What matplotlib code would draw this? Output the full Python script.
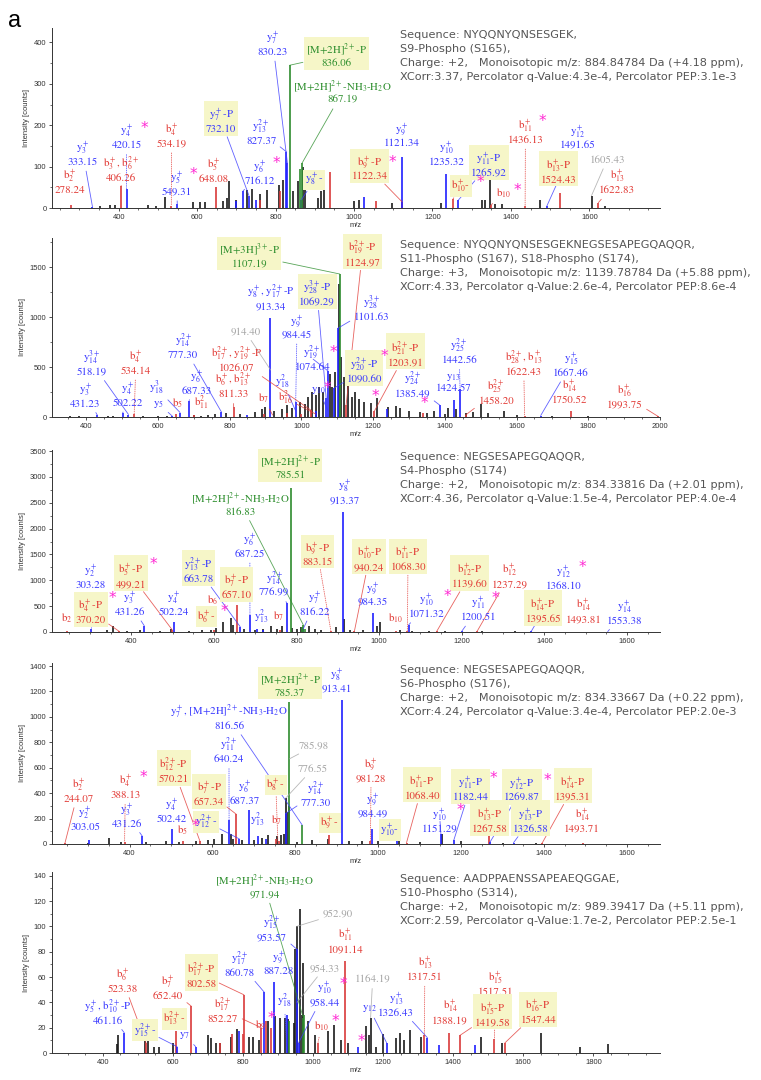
import matplotlib
matplotlib.use("Agg")
import matplotlib.pyplot as plt
from matplotlib.ticker import MultipleLocator, AutoMinorLocator

plt.rcParams['font.family'] = ['Liberation Sans', 'DejaVu Sans']
plt.rcParams['mathtext.fontset'] = 'stix'

# ---------------- data: peaks (m/z, intensity) ----------------
p1_black = [(352, 5), (377, 7), (390, 8), (475, 7), (496, 5), (517, 26), (590, 15), (607, 15), (619, 14),
            (667, 18), (675, 25), (682, 65), (700, 20), (727, 43), (741, 47), (761, 35), (778, 43), (808, 55),
            (818, 68), (845, 42), (858, 66), (869, 98), (876, 82), (907, 25), (916, 40), (924, 48), (1000, 16),
            (1013, 20), (1098, 12), (1221, 12), (1327, 20), (1335, 20), (1346, 68), (1359, 10), (1378, 10),
            (1474, 20), (1605.43, 30), (1640, 5)]
p1_blue = [(333.15, 3), (420.15, 45), (549.31, 10), (700, 18), (716.12, 40), (732.10, 30), (749, 20),
           (827.37, 136), (830.23, 108), (866, 20), (1026, 26), (1121.34, 124), (1235.32, 82), (1265.92, 19),
           (1491.65, 5)]
p1_red = [(278.24, 8), (406.26, 52), (534.19, 5), (648.08, 51), (760, 20), (810, 40), (939, 88), (1056, 16),
          (1122.34, 15), (1252, 21), (1350, 8), (1436.13, 5), (1524.43, 37), (1622.83, 13)]
p1_green = [(836.06, 345), (862, 95), (867.19, 108)]

p2_black = [(355, 10), (380, 8), (460, 12), (475, 10), (560, 10), (600, 12), (625, 15), (700, 20), (720, 15),
            (740, 25), (760, 30), (790, 40), (830, 30), (870, 50), (890, 80), (900, 100), (925, 60), (945, 80),
            (960, 120), (975, 90), (995, 150), (1010, 130), (1020, 200), (1030, 250), (1040, 220), (1050, 300),
            (1060, 250), (1080, 430), (1085, 300), (1095, 450), (1104, 1330), (1112, 600), (1118, 400),
            (1130, 350), (1140, 200), (1150, 250), (1160, 180), (1174, 150), (1193, 137), (1212, 187),
            (1241, 103), (1264, 110), (1275, 90), (1300, 60), (1330, 50), (1350, 40), (1370, 60), (1400, 30),
            (1410, 90), (1430, 80), (1460, 40), (1480, 50), (1501, 130), (1520, 40), (1564, 60), (1600, 20),
            (1700, 15), (1800, 10)]
p2_blue = [(431.23, 20), (502.22, 40), (518.19, 25), (640, 10), (662, 45), (687.33, 165), (777.30, 50),
           (850, 20), (913.34, 990), (984.45, 150), (1040, 60), (1069.29, 190), (1074.64, 460), (1090.60, 287),
           (1101.63, 887), (1240, 80), (1385.49, 120), (1424.57, 170), (1442.56, 280), (1667.46, 15)]
p2_red = [(534.14, 30), (650, 30), (700, 20), (811.33, 100), (895, 30), (960, 40), (1000, 30), (1026.07, 70),
          (1124.97, 120), (1203.91, 60), (1340, 40), (1458.20, 20), (1622.43, 15), (1750.52, 60), (1993.75, 8)]
p2_green = [(1107.19, 1430)]

p3_black = [(340, 30), (356, 110), (390, 20), (420, 40), (470, 25), (495, 60), (540, 20), (570, 30), (594, 40),
            (604, 70), (623, 200), (641, 280), (646, 135), (672, 60), (700, 40), (720, 50), (738, 110),
            (752, 60), (765, 110), (790, 80), (800, 60), (810, 90), (830, 110), (845, 50), (860, 40), (895, 100),
            (914, 250), (930, 40), (960, 30), (995, 110), (1002, 200), (1050, 30), (1080, 20), (1120, 15),
            (1160, 20), (1250, 10), (1330, 10)]
p3_blue = [(303.28, 60), (431.26, 122), (502.24, 200), (663.78, 100), (687.25, 330), (705, 60), (720, 40),
           (776.99, 555), (816.22, 60), (913.37, 2330), (984.35, 360), (1071.32, 135), (1200.51, 20),
           (1368.10, 10), (1553.38, 8)]
p3_red = [(245, 20), (370.20, 15), (499.21, 40), (600, 30), (657.10, 520), (760, 30), (883.15, 20),
          (940.24, 20), (1040, 15), (1068.30, 20), (1139.60, 15), (1237.29, 15), (1395.65, 8), (1493.81, 8)]
p3_green = [(785.51, 2790), (813, 90), (816.83, 130), (820, 60)]

p4_black = [(300, 10), (350, 50), (380, 15), (440, 15), (487, 20), (520, 15), (560, 20), (590, 30), (604, 40),
            (624, 80), (645, 82), (650, 40), (672, 30), (700, 30), (720, 45), (733, 73), (756, 60), (766, 70),
            (772, 80), (776.55, 360), (782, 250), (785.98, 300), (805, 15), (840, 30), (880, 40), (930, 25),
            (960, 20), (1000, 20), (1051, 50), (1100, 15), (1153, 80), (1200, 20), (1300, 10), (1380, 8)]
p4_blue = [(303.05, 33), (431.26, 60), (502.42, 118), (640.24, 189), (665, 40), (687.37, 267), (709, 60),
           (730, 40), (777.30, 241), (913.41, 1135), (984.49, 118), (1045, 20), (1151.29, 80), (1182.44, 30),
           (1269.87, 15), (1326.58, 10)]
p4_red = [(244.07, 5), (388.13, 15), (528, 20), (570.21, 20), (657.34, 235), (754, 40), (760, 20), (882, 70),
          (981.28, 20), (1068.40, 10), (1267.58, 60), (1395.31, 5), (1493.71, 5)]
p4_green = [(785.37, 1115), (816.56, 150)]

p5_black = [(441, 7), (444, 14), (520, 13), (528, 10), (545, 5), (560, 5), (600, 8), (700, 14), (710, 12),
            (724, 8), (733, 8), (766, 13), (783, 19), (816, 13), (830, 13), (845, 10), (870, 25), (892, 29),
            (906, 28), (920, 28), (929, 27), (945, 24), (949, 82), (952.90, 100), (962, 114), (968, 30),
            (971, 71), (985, 25), (1005, 14), (1042, 17), (1061, 22), (1080, 10), (1100, 8), (1152, 21),
            (1161, 14), (1164.19, 28), (1180, 5), (1200, 15), (1237, 12), (1247, 16), (1260, 10), (1278, 18),
            (1309, 13), (1480, 13), (1540, 8), (1649, 16), (1762, 5), (1842, 7)]
p5_blue = [(461.16, 16), (612, 5), (665, 5), (790, 17), (860.78, 48), (887.28, 56), (925, 30), (953.57, 82),
           (958.44, 8), (1127, 5), (1210, 8), (1326.43, 12), (1360, 6), (1462, 6)]
p5_red = [(523.38, 8), (609, 17), (652.40, 37), (735, 8), (770, 15), (800, 15), (802.58, 46), (852.27, 20),
          (866, 25), (880, 20), (1014, 8), (1091.14, 73), (1317.51, 14), (1388.19, 16), (1419.58, 14),
          (1517.51, 11), (1547.44, 8)]
p5_green = [(930, 25), (971.94, 28), (975, 30)]

# PSM info text
p1_info = ["Sequence: NYQQNYQNSESGEK,", "S9-Phospho (S165),",
           "Charge: +2,   Monoisotopic m/z: 884.84784 Da (+4.18 ppm),",
           "XCorr:3.37, Percolator q-Value:4.3e-4, Percolator PEP:3.1e-3"]
p2_info = ["Sequence: NYQQNYQNSESGEKNEGSESAPEGQAQQR,", "S11-Phospho (S167), S18-Phospho (S174),",
           "Charge: +3,   Monoisotopic m/z: 1139.78784 Da (+5.88 ppm),",
           "XCorr:4.33, Percolator q-Value:2.6e-4, Percolator PEP:8.6e-4"]
p3_info = ["Sequence: NEGSESAPEGQAQQR,", "S4-Phospho (S174)",
           "Charge: +2,   Monoisotopic m/z: 834.33816 Da (+2.01 ppm),",
           "XCorr:4.36, Percolator q-Value:1.5e-4, Percolator PEP:4.0e-4"]
p4_info = ["Sequence: NEGSESAPEGQAQQR,", "S6-Phospho (S176),",
           "Charge: +2,   Monoisotopic m/z: 834.33667 Da (+0.22 ppm),",
           "XCorr:4.24, Percolator q-Value:3.4e-4, Percolator PEP:2.0e-3"]
p5_info = ["Sequence: AADPPAENSSAPEAEQGGAE,", "S10-Phospho (S314),",
           "Charge: +2,   Monoisotopic m/z: 989.39417 Da (+5.11 ppm),",
           "XCorr:2.59, Percolator q-Value:1.7e-2, Percolator PEP:2.5e-1"]

# ---------------- annotation layout ----------------
# (text, colour, label x, label y, target x, target y, boxed, dotted)
p1_labels = [
    ("y$_7^+$\n830.23", 'b', 793, 398, 830.23, 108, False, False),
    ("[M+2H]$^{2+}$-P\n836.06", 'g', 955, 370, 836.06, 345, True, False),
    ("[M+2H]$^{2+}$-NH$_3$-H$_2$O\n867.19", 'g', 971, 281, 867.19, 108, False, False),
    ("y$_{13}^{2+}$\n827.37", 'b', 763, 184, 827.37, 136, False, False),
    ("y$_7^+$-P\n732.10", 'b', 661, 212, 732.10, 30, True, False),
    ("y$_6^+$\n716.12", 'b', 760, 88, 716.12, 40, False, False),
    ("y$_5^+$\n549.31", 'b', 548, 61, 549.31, 10, False, False),
    ("b$_5^+$\n648.08", 'r', 642, 92, None, None, False, False),
    ("b$_4^+$\n534.19", 'r', 535, 176, 534.19, 5, False, True),
    ("y$_4^+$\n420.15", 'b', 420, 172, 420.15, 45, False, True),
    ("b$_3^+$, b$_6^{2+}$\n406.26", 'r', 407, 96, 406.26, 52, False, False),
    ("y$_3^+$\n333.15", 'b', 309, 132, 333.15, 3, False, False),
    ("b$_2^+$\n278.24", 'r', 275, 64, None, None, False, False),
    ("y$_8^+$-", 'b', 899, 68, 866, 20, True, False),
    ("b$_9^+$-P\n1122.34", 'r', 1039, 96, 1122.34, 15, True, False),
    ("y$_9^+$\n1121.34", 'b', 1122, 176, None, None, False, False),
    ("y$_{10}^+$\n1235.32", 'b', 1235, 132, None, None, False, False),
    ("y$_{11}^+$-P\n1265.92", 'b', 1344, 106, 1265.92, 19, True, False),
    ("b$_{10}^+$-", 'r', 1272, 53, 1252, 21, True, False),
    ("b$_{10}$", 'r', 1382, 35, 1350, 8, False, False),
    ("b$_{11}^+$\n1436.13", 'r', 1437, 186, 1436.13, 5, False, True),
    ("y$_{12}^+$\n1491.65", 'b', 1571, 172, 1491.65, 5, False, False),
    ("b$_{13}^+$-P\n1524.43", 'r', 1522, 90, None, None, True, False),
    ("1605.43", 'k', 1645, 116, 1605.43, 30, False, False),
    ("b$_{13}^+$\n1622.83", 'r', 1670, 64, 1622.83, 13, False, False),
]
p1_stars = [(456, 192), (582, 82), (792, 108), (1090, 110), (1312, 61), (1407, 42), (1471, 208)]

p2_labels = [
    ("[M+3H]$^{3+}$-P\n1107.19", 'g', 855, 1620, 1107.19, 1430, True, False),
    ("b$_{19}^{2+}$-P\n1124.97", 'r', 1170, 1637, 1124.97, 120, True, False),
    ("y$_8^+$, y$_{17}^{2+}$-P\n913.34", 'b', 914, 1203, None, None, False, False),
    ("y$_{28}^{3+}$-P\n1069.29", 'b', 1044, 1237, 1069.29, 190, True, False),
    ("y$_{28}^{3+}$\n1101.63", 'b', 1196, 1087, 1101.63, 887, False, False),
    ("y$_9^+$\n984.45", 'b', 988, 903, 984.45, 150, False, True),
    ("914.40", 'k', 844, 853, 914.40, 470, False, False),
    ("y$_{19}^{2+}$\n1074.64", 'b', 1030, 587, 1074.64, 460, False, False),
    ("y$_{20}^{2+}$-P\n1090.60", 'b', 1175, 470, 1090.60, 287, True, False),
    ("b$_{21}^{2+}$-P\n1203.91", 'r', 1291, 637, 1203.91, 60, True, False),
    ("y$_{14}^{2+}$\n777.30", 'b', 671, 713, 777.30, 50, False, False),
    ("b$_{17}^{2+}$, y$_{19}^{2+}$-P\n1026.07", 'r', 820, 580, 1026.07, 70, False, False),
    ("b$_4^+$\n534.14", 'r', 539, 547, 534.14, 30, False, True),
    ("y$_{14}^{3+}$\n518.19", 'b', 415, 547, 518.19, 25, False, False),
    ("y$_6^+$\n687.33", 'b', 708, 353, 687.33, 165, False, False),
    ("b$_6^+$, b$_{13}^{2+}$\n811.33", 'r', 811, 320, 811.33, 100, False, False),
    ("y$_3^+$\n431.23", 'b', 398, 220, 431.23, 20, False, False),
    ("y$_4^+$\n502.22", 'b', 517, 227, 502.22, 40, False, False),
    ("y$_{18}^3$", 'b', 597, 287, 662, 45, False, False),
    ("y$_5$", 'b', 603, 130, 640, 10, False, False),
    ("b$_5$", 'r', 655, 137, None, None, False, False),
    ("b$_{11}^2$", 'r', 722, 137, None, None, False, False),
    ("y$_{18}^2$", 'b', 948, 353, 984.45, 60, False, False),
    ("b$_7$", 'r', 895, 187, 920, 20, False, False),
    ("b$_{16}^2$", 'r', 956, 187, 1040, 30, False, False),
    ("y$_{10}$", 'b', 1049, 263, 1074.64, 60, False, False),
    ("y$_{24}^{2+}$\n1385.49", 'b', 1310, 327, 1385.49, 120, False, False),
    ("y$_{25}^{2+}$\n1442.56", 'b', 1440, 660, 1442.56, 280, False, True),
    ("y$_{13}$\n1424.57", 'b', 1424, 347, None, None, False, False),
    ("b$_{25}^{2+}$\n1458.20", 'r', 1543, 253, 1458.20, 20, False, False),
    ("b$_{28}^{2+}$, b$_{13}^+$\n1622.43", 'r', 1620, 543, 1622.43, 15, False, True),
    ("y$_{15}^+$\n1667.46", 'b', 1752, 530, 1667.46, 15, False, False),
    ("b$_{14}^+$\n1750.52", 'r', 1748, 263, None, None, False, False),
    ("b$_{16}^+$\n1993.75", 'r', 1902, 213, 1993.75, 8, False, False),
]
p2_stars = [(1080, 650), (1222, 603), (1062, 287), (1198, 200), (1333, 137)]

p3_labels = [
    ("[M+2H]$^{2+}$-P\n785.51", 'g', 785, 3197, None, None, True, False),
    ("[M+2H]$^{2+}$-NH$_3$-H$_2$O\n816.83", 'g', 665, 2488, 816.83, 130, False, False),
    ("y$_8^+$\n913.37", 'b', 916, 2714, None, None, False, False),
    ("y$_6^+$\n687.25", 'b', 687, 1683, 687.25, 330, False, True),
    ("b$_9^+$-P\n883.15", 'r', 851, 1521, 883.15, 20, True, True),
    ("b$_{10}^+$-P\n940.24", 'r', 976, 1425, 940.24, 20, True, False),
    ("b$_{11}^+$-P\n1068.30", 'r', 1070, 1425, 1068.30, 20, True, True),
    ("b$_5^+$-P\n499.21", 'r', 399, 1102, 499.21, 40, True, False),
    ("y$_2^+$\n303.28", 'b', 302, 1070, 303.28, 60, False, True),
    ("y$_{13}^{2+}$-P\n663.78", 'b', 563, 1199, 663.78, 100, True, False),
    ("b$_7^+$-P\n657.10", 'r', 655, 876, None, None, True, False),
    ("y$_{14}^{2+}$\n776.99", 'b', 746, 941, 776.99, 555, False, False),
    ("y$_9^+$\n984.35", 'b', 985, 748, None, None, False, False),
    ("y$_7^+$\n816.22", 'b', 845, 554, 816.22, 60, False, False),
    ("y$_3^+$\n431.26", 'b', 396, 554, 431.26, 122, False, False),
    ("y$_4^+$\n502.24", 'b', 503, 554, None, None, False, False),
    ("b$_4^+$-P\n370.20", 'r', 302, 393, 370.20, 15, True, False),
    ("b$_2$", 'r', 244, 264, None, None, False, False),
    ("b$_6$", 'r', 597, 619, None, None, False, False),
    ("b$_6^+$-", 'r', 582, 297, None, None, True, False),
    ("y$_{13}^2$", 'b', 716, 297, None, None, False, False),
    ("b$_7$", 'r', 756, 297, None, None, False, False),
    ("b$_{10}$", 'r', 1040, 264, None, None, False, False),
    ("y$_{10}^+$\n1071.32", 'b', 1114, 522, 1071.32, 135, False, False),
    ("b$_{12}^+$-P\n1139.60", 'r', 1219, 1102, 1139.60, 15, True, False),
    ("b$_{12}^+$\n1237.29", 'r', 1316, 1102, 1237.29, 15, False, False),
    ("y$_{11}^+$\n1200.51", 'b', 1240, 458, 1200.51, 20, False, False),
    ("y$_{12}^+$\n1368.10", 'b', 1446, 1070, 1368.10, 10, False, False),
    ("b$_{14}^+$-P\n1395.65", 'r', 1397, 425, None, None, True, False),
    ("b$_{14}^+$\n1493.81", 'r', 1495, 425, None, None, False, False),
    ("y$_{14}^+$\n1553.38", 'b', 1594, 393, 1553.38, 8, False, False),
]
p3_stars = [(446, 1296), (345, 650), (616, 393), (1158, 683), (1274, 640), (1484, 1251)]

p4_labels = [
    ("[M+2H]$^{2+}$-P\n785.37", 'g', 788, 1256, None, None, True, False),
    ("y$_8^+$\n913.41", 'b', 901, 1290, None, None, False, False),
    ("y$_7^+$, [M+2H]$^{2+}$-NH$_3$-H$_2$O\n816.56", 'b', 640, 1001, 816.56, 150, False, False),
    ("785.98", 'k', 846, 773, 785.98, 670, False, False),
    ("776.55", 'k', 842, 590, 776.55, 360, False, False),
    ("y$_{11}^{2+}$\n640.24", 'b', 640, 739, 640.24, 189, False, True),
    ("b$_{12}^{2+}$-P\n570.21", 'r', 507, 582, 570.21, 20, True, False),
    ("b$_4^+$\n388.13", 'r', 390, 451, 388.13, 15, False, True),
    ("b$_2^+$\n244.07", 'r', 277, 425, 244.07, 5, False, False),
    ("b$_7^+$-P\n657.34", 'r', 592, 399, 657.34, 235, True, False),
    ("y$_6^+$\n687.37", 'b', 677, 412, None, None, False, False),
    ("b$_8^+$-", 'r', 753, 464, 758, 20, True, True),
    ("y$_{14}^{2+}$\n777.30", 'b', 850, 399, 777.30, 241, False, False),
    ("b$_9^+$\n981.28", 'r', 983, 582, 981.28, 20, False, True),
    ("y$_2^+$\n303.05", 'b', 293, 202, None, None, False, False),
    ("y$_3^+$\n431.26", 'b', 394, 228, 431.26, 60, False, False),
    ("y$_4^+$\n502.42", 'b', 503, 267, None, None, False, False),
    ("b$_5$", 'r', 528, 110, None, None, False, False),
    ("y$_{12}^{2+}$-", 'b', 584, 176, 665, 40, True, False),
    ("y$_{13}^2$", 'b', 709, 189, None, None, False, False),
    ("b$_7$", 'r', 754, 189, None, None, False, False),
    ("y$_9^+$\n984.49", 'b', 988, 307, None, None, False, False),
    ("b$_9^+$-", 'r', 883, 163, None, None, True, False),
    ("y$_{10}^+$-", 'b', 1028, 110, 1045, 20, True, False),
    ("b$_{11}^+$-P\n1068.40", 'r', 1106, 451, 1068.40, 10, True, False),
    ("y$_{11}^+$-P\n1182.44", 'b', 1222, 438, 1182.44, 30, True, False),
    ("y$_{12}^+$-P\n1269.87", 'b', 1347, 433, 1269.87, 15, True, False),
    ("b$_{14}^+$-P\n1395.31", 'r', 1470, 443, 1395.31, 5, True, False),
    ("y$_{10}^+$\n1151.29", 'b', 1149, 189, 1151.29, 80, False, False),
    ("b$_{13}^+$-P\n1267.58", 'r', 1268, 189, 1267.58, 60, True, False),
    ("y$_{13}^+$-P\n1326.58", 'b', 1367, 189, 1326.58, 10, True, False),
    ("b$_{14}^+$\n1493.71", 'r', 1492, 189, None, None, False, False),
]
p4_stars = [(424, 522), (550, 140), (1190, 262), (1270, 516), (1399, 503)]

p5_labels = [
    ("[M+2H]$^{2+}$-NH$_3$-H$_2$O\n971.94", 'g', 862, 132, 971.94, 28, False, False),
    ("952.90", 'k', 1070, 110, 952.90, 100, False, False),
    ("y$_{15}^{2+}$\n953.57", 'b', 883, 99, 953.57, 82, False, False),
    ("b$_{11}^+$\n1091.14", 'r', 1092, 89, None, None, False, False),
    ("y$_{17}^{2+}$\n860.78", 'b', 790, 71, 860.78, 48, False, False),
    ("y$_9^+$\n887.28", 'b', 902, 71, None, None, False, False),
    ("b$_{17}^{2+}$-P\n802.58", 'r', 681, 62, 802.58, 46, True, False),
    ("954.33", 'k', 1032, 67, 954.33, 40, False, False),
    ("b$_6^+$\n523.38", 'r', 456, 58, 523.38, 8, False, False),
    ("b$_7^+$\n652.40", 'r', 586, 52, 652.40, 37, False, False),
    ("1164.19", 'k', 1170, 58, 1164.19, 28, False, False),
    ("y$_{10}^+$\n958.44", 'b', 1032, 47, 958.44, 8, False, False),
    ("y$_5^+$, b$_{10}^{2+}$-P\n461.16", 'b', 415, 33, 461.16, 16, False, False),
    ("b$_{13}^{2+}$-", 'r', 605, 27, None, None, True, False),
    ("b$_{17}^{2+}$\n852.27", 'r', 743, 34, 852.27, 20, False, False),
    ("y$_{18}^2$", 'b', 918, 41, 925, 5, False, True),
    ("b$_9$", 'r', 850, 22, None, None, False, False),
    ("b$_{10}$", 'r', 1023, 21, 1014, 8, False, True),
    ("y$_{15}^{2+}$-", 'b', 520, 18, 612, 5, True, False),
    ("y$_7$", 'b', 634, 14, 665, 5, False, False),
    ("y$_{12}$", 'b', 1161, 35, 1210, 8, False, False),
    ("y$_{13}^+$\n1326.43", 'b', 1237, 39, 1326.43, 12, False, False),
    ("b$_{13}^+$\n1317.51", 'r', 1319, 67, 1317.51, 14, False, True),
    ("b$_{15}^+$\n1517.51", 'r', 1521, 55, 1517.51, 11, False, True),
    ("b$_{14}^+$\n1388.19", 'r', 1391, 33, None, None, False, False),
    ("b$_{15}^+$-P\n1419.58", 'r', 1511, 31, 1419.58, 14, True, False),
    ("b$_{16}^+$-P\n1547.44", 'r', 1642, 33, 1547.44, 8, True, False),
]
p5_stars = [(872, 27), (1076, 54), (1053, 25), (1127, 9)]

# ---------------- styling ----------------
BAR = {'k': '#1a1a1a', 'b': '#1f1fff', 'r': '#d93a3a', 'g': '#2e8b2e'}
TXT = {'k': '#a6a6a6', 'b': '#3a3aff', 'r': '#e23b36', 'g': '#2f8f2f'}
BOX = '#f6f6c8'
STAR = '#ff2ad4'

fig = plt.figure(figsize=(7.61, 10.8), dpi=100)

panels = [
    (p1_black, p1_blue, p1_red, p1_green, p1_labels, p1_stars, p1_info, (230, 1780), (0, 435), 100, 28, 208),
    (p2_black, p2_blue, p2_red, p2_green, p2_labels, p2_stars, p2_info, (305, 2000), (0, 1790), 500, 238, 417),
    (p3_black, p3_blue, p3_red, p3_green, p3_labels, p3_stars, p3_info, (208, 1680), (0, 3520), 500, 450, 632),
    (p4_black, p4_blue, p4_red, p4_green, p4_labels, p4_stars, p4_info, (213, 1680), (0, 1424), 200, 663, 844),
    (p5_black, p5_blue, p5_red, p5_green, p5_labels, p5_stars, p5_info, (255, 1990), (0, 143), 20, 872, 1053),
]

W, H = 761.0, 1080.0
for black, blue, red, green, labels, stars, info, xl, yl, ystep, top, bot in panels:
    ax = fig.add_axes([52 / W, 1 - bot / H, (660 - 52) / W, (bot - top) / H])
    for pk, key in ((black, 'k'), (red, 'r'), (blue, 'b'), (green, 'g')):
        ax.vlines([p[0] for p in pk], 0, [p[1] for p in pk], colors=BAR[key], lw=1.2)

    for text, c, lx, ly, tx, ty, boxed, dotted in labels:
        bbox = dict(facecolor=BOX, edgecolor='none', pad=1.2) if boxed else None
        if tx is None:
            ax.text(lx, ly, text, color=TXT[c], fontsize=7.8, family='STIXGeneral',
                    ha='center', va='center', linespacing=1.05, bbox=bbox)
        else:
            ax.annotate(text, xy=(tx, ty), xytext=(lx, ly), color=TXT[c], fontsize=7.8,
                        family='STIXGeneral', ha='center', va='center', linespacing=1.05,
                        bbox=bbox, annotation_clip=False,
                        arrowprops=dict(arrowstyle='-', color=TXT[c], lw=0.6, alpha=0.8,
                                        linestyle=':' if dotted else '-',
                                        shrinkA=1, shrinkB=0))
    # pink asterisks, nudged a little to the right of the ion label
    for sx, sy in stars:
        ax.annotate('*', (sx, sy), xytext=(2.5, 0), textcoords='offset points', color=STAR,
                    fontsize=11, ha='center', va='center', family='DejaVu Sans')

    ax.set_xlim(*xl)
    ax.set_ylim(*yl)
    ax.spines['top'].set_visible(False)
    ax.spines['right'].set_visible(False)
    for s in ('left', 'bottom'):
        ax.spines[s].set_linewidth(0.7)
        ax.spines[s].set_color('#333333')
    ax.xaxis.set_major_locator(MultipleLocator(200))
    ax.xaxis.set_minor_locator(AutoMinorLocator(4))
    ax.yaxis.set_major_locator(MultipleLocator(ystep))
    ax.yaxis.set_minor_locator(AutoMinorLocator(2))
    ax.tick_params(which='major', labelsize=5.5, length=2.5, width=0.6, colors='#333333', pad=1.5)
    ax.tick_params(which='minor', length=1.5, width=0.5, colors='#333333')
    ax.set_xlabel('m/z', fontsize=5.5, labelpad=1, color='#333333')
    ax.set_ylabel('Intensity [counts]', fontsize=5.5, labelpad=3, color='#333333')

    for i, line in enumerate(info):
        fig.text(400 / W, 1 - (top + 7 + 14 * i) / H, line, fontsize=8.1, family='DejaVu Sans',
                 color='#555555', ha='left', va='center')

fig.text(8 / W, 1 - 10 / H, 'a', fontsize=17, va='top', ha='left')

fig.savefig('out.png', dpi=100)
